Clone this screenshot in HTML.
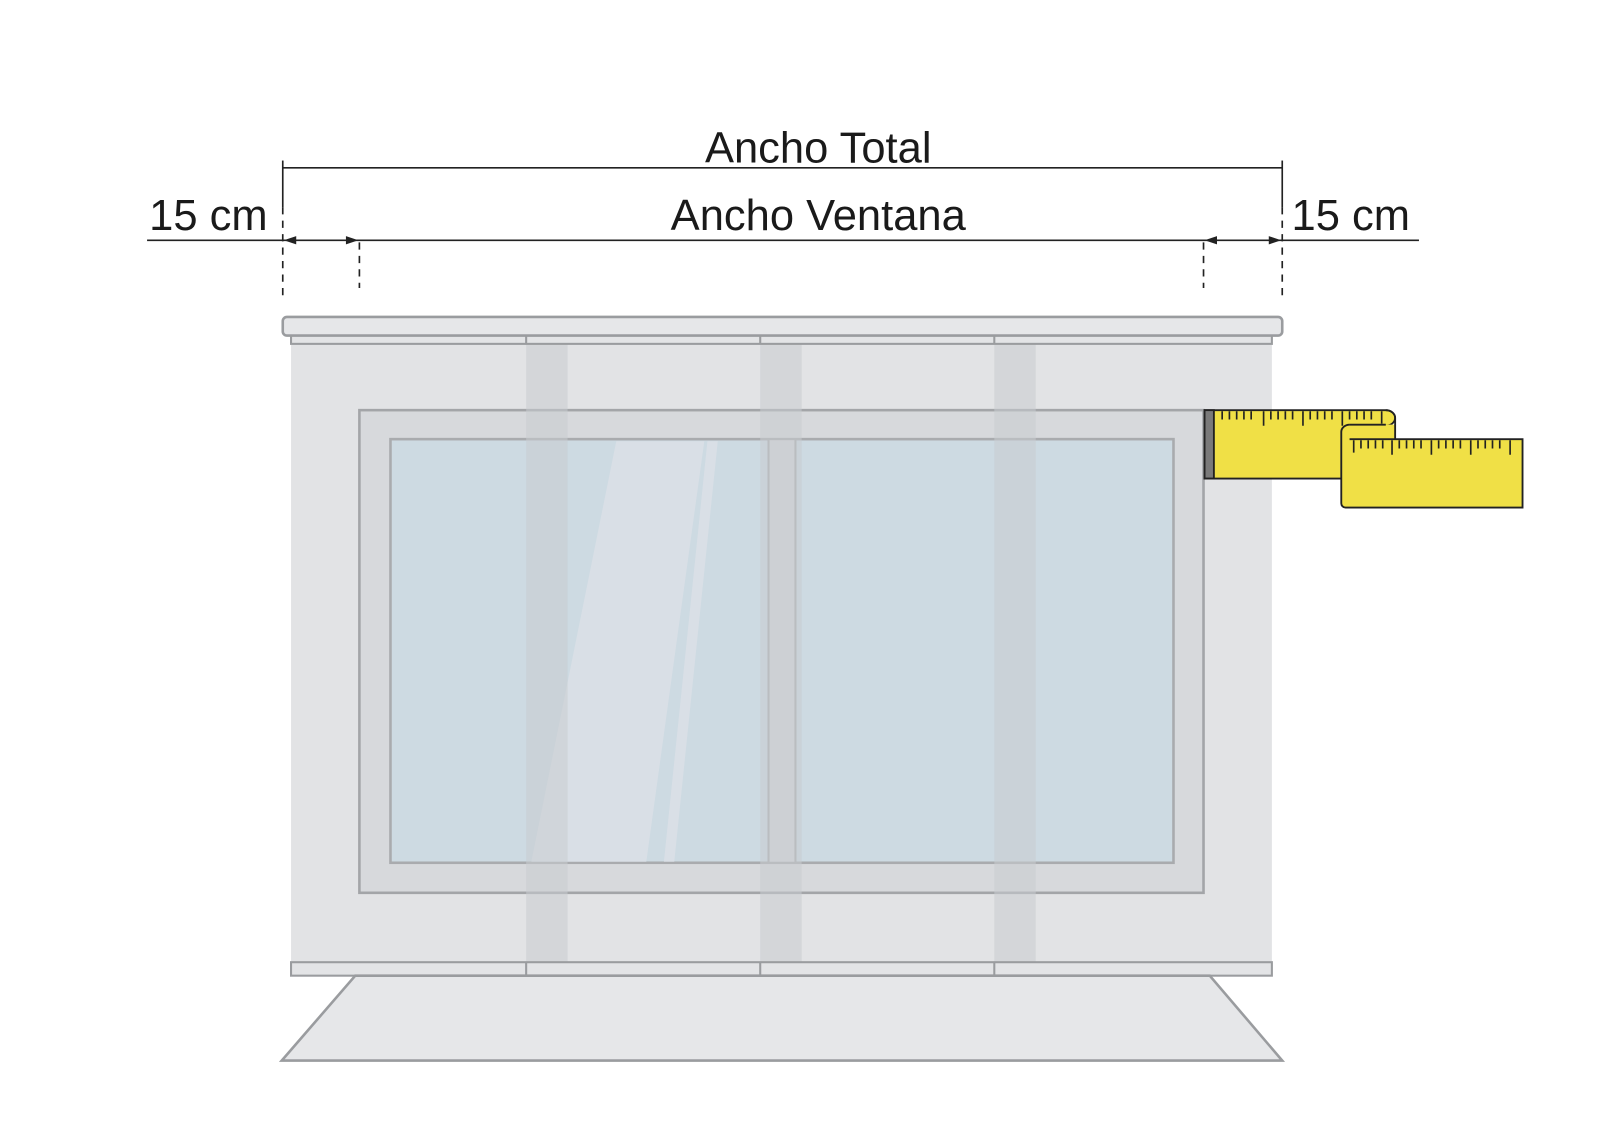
<!DOCTYPE html>
<html><head><meta charset="utf-8"><style>
html,body{margin:0;padding:0;background:#fff;}
svg{display:block;}
text{font-family:"Liberation Sans",Arial,sans-serif;fill:#1a1a1a;}
</style></head><body>
<svg width="1623" height="1130" viewBox="0 0 1567 1091" preserveAspectRatio="none" xmlns="http://www.w3.org/2000/svg">
<rect width="1567" height="1091" fill="#fff"/>
<text x="790" y="157" font-size="42" text-anchor="middle">Ancho Total</text>
<text x="790" y="222" font-size="42" text-anchor="middle">Ancho Ventana</text>
<text x="144" y="222" font-size="42">15 cm</text>
<text x="1247" y="222" font-size="42">15 cm</text>
<g stroke="#222" stroke-width="1.6" fill="none">
<line x1="273" y1="162" x2="1238" y2="162"/>
<line x1="273" y1="155" x2="273" y2="200"/>
<line x1="1238" y1="155" x2="1238" y2="200"/>
<line x1="142" y1="232" x2="1370" y2="232"/>
<g stroke-dasharray="7,6">
<line x1="273" y1="200" x2="273" y2="286"/>
<line x1="1238" y1="200" x2="1238" y2="286"/>
<line x1="347" y1="234" x2="347" y2="278"/>
<line x1="1162" y1="234" x2="1162" y2="278"/>
</g>
</g>
<g fill="#222">
<polygon points="274,232 286,228 286,236"/>
<polygon points="346,232 334,228 334,236"/>
<polygon points="1163,232 1175,228 1175,236"/>
<polygon points="1237,232 1225,228 1225,236"/>
</g>
<rect x="281" y="332" width="947" height="598" fill="#e2e3e5"/>
<rect x="347" y="396" width="815" height="466" fill="#d7d9dc" stroke="#a3a5a8" stroke-width="2.5"/>
<rect x="377" y="424" width="756" height="409" fill="#cddae2" stroke="#a9abae" stroke-width="2.5"/>
<polygon points="595,426 680,426 624,832 513,832" fill="#d9dfe6"/>
<polygon points="683,426 693,426 651,832 641,832" fill="#d9dfe6"/>
<rect x="742" y="424" width="26" height="409" fill="#d3d6d9" stroke="#a9abae" stroke-width="2"/>
<g fill="#c8ccd0" opacity="0.55">
<rect x="508" y="332" width="40" height="598"/>
<rect x="734" y="332" width="40" height="598"/>
<rect x="960" y="332" width="40" height="598"/>
</g>
<rect x="281" y="322" width="947" height="10" fill="#e3e4e6" stroke="#9a9c9f" stroke-width="2"/>
<line x1="508" y1="322" x2="508" y2="332" stroke="#9a9c9f" stroke-width="2"/>
<line x1="734" y1="322" x2="734" y2="332" stroke="#9a9c9f" stroke-width="2"/>
<line x1="960" y1="322" x2="960" y2="332" stroke="#9a9c9f" stroke-width="2"/>
<rect x="273" y="306" width="965" height="18" rx="4" fill="#e6e7e9" stroke="#9a9c9f" stroke-width="2.5"/>
<rect x="281" y="929" width="947" height="13" fill="#e3e4e6" stroke="#9a9c9f" stroke-width="2"/>
<line x1="508" y1="929" x2="508" y2="942" stroke="#9a9c9f" stroke-width="2"/>
<line x1="734" y1="929" x2="734" y2="942" stroke="#9a9c9f" stroke-width="2"/>
<line x1="960" y1="929" x2="960" y2="942" stroke="#9a9c9f" stroke-width="2"/>
<polygon points="343,942 1168,942 1238,1024 272,1024" fill="#e6e7e9" stroke="#9a9c9f" stroke-width="2.5"/>
<g stroke="#222" stroke-width="1.8">
<path d="M1163,396 H1338 A9,7.5 0 0 1 1338,411 V462 H1163 Z" fill="#f0e046"/>
<rect x="1163" y="396" width="9" height="66" fill="#7a7a7a"/>
<path d="M1303,410 H1347 V424 H1303 Z" fill="#f0e046" stroke="none"/>
<path d="M1338,396 A9,7.5 0 0 1 1347,403.5 V424" fill="none"/>
<path d="M1303,410 A8,7 0 0 0 1295,417 V486 A4,4 0 0 0 1299,490 H1470 V424 H1303" fill="#f0e046"/>
<line x1="1303" y1="410" x2="1338" y2="410"/>
</g>
<g stroke="#222" stroke-width="1.6">
<path d="M1180,397v8M1187,397v8M1194,397v8M1201,397v8M1208,397v8M1220,397v14M1227,397v8M1234,397v8M1241,397v8M1248,397v8M1258,397v14M1265,397v8M1272,397v8M1279,397v8M1286,397v8M1296,397v14M1303,397v8M1310,397v8M1317,397v8M1324,397v8M1334,397v12"/>
<path d="M1307,425v12M1314,425v8M1321,425v8M1328,425v8M1335,425v8M1344,425v14M1351,425v8M1358,425v8M1365,425v8M1372,425v8M1382,425v14M1389,425v8M1396,425v8M1403,425v8M1410,425v8M1420,425v14M1427,425v8M1434,425v8M1441,425v8M1448,425v8M1458,425v14"/>
</g>
</svg>
</body></html>
